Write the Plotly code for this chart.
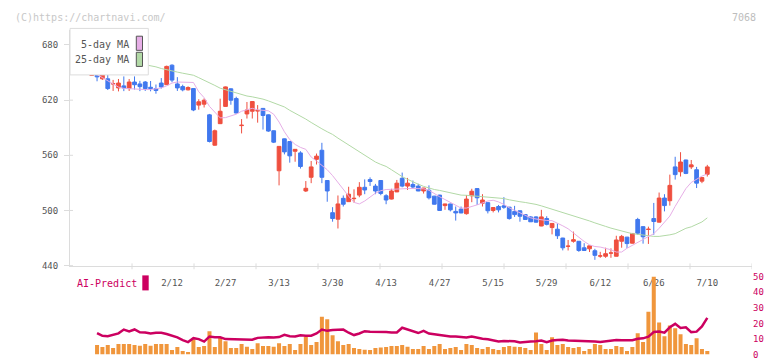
import plotly.graph_objects as go

# ---------------- data ----------------
tick_labels = ["2/12", "2/27", "3/13", "3/30", "4/13", "4/27", "5/15", "5/29", "6/12", "6/26", "7/10"]
tick_index = [15, 25, 35, 45, 55, 65, 75, 85, 95, 105, 115]

opens = [647, 648.9, 643.2, 643.2, 637.5, 633.3, 635.5, 632.6, 639.7, 637.6,
         639.7, 634, 632.6, 638.6, 636.8, 658, 637.6, 634.7, 631.2, 632.6,
         614.6, 615.6, 604, 571, 594.4, 613.2, 632.3, 621.7, 592.3, 605,
         607.9, 608.2, 611, 604, 586.7, 543.2, 577.9, 575, 564.4, 562.6,
         521.2, 536.1, 555.6, 565.5, 532.6, 497.6, 490.5, 513.2, 509.6, 512.8,
         516.7, 525.2, 533.6, 526.5, 532.6, 516, 512.4, 520.2, 535, 526.5,
         528.3, 526.5, 521.2, 522, 515.6, 516.7, 505.3, 507.1, 499, 501.5,
         496.5, 516, 523.8, 507.9, 508.5, 500, 504.3, 505, 503.6, 499,
         499.7, 495.5, 493, 493, 483.1, 491.2, 481.4, 479.6, 470, 461,
         466.5, 466.5, 459.4, 458.3, 456.2, 450.4, 450.2, 453.6, 450.2, 466.5,
         471, 464.4, 490.2, 482.4, 479.3, 491.2, 487.3, 513.5, 510.6, 547.4,
         542.1, 554.9, 547.4, 544.3, 531.9, 539.3]

highs = [648.5, 651, 653.5, 648.5, 642, 643, 645.8, 643, 645.8, 641,
         640.8, 640.8, 637, 644, 657.5, 659, 645, 636.8, 635, 633,
         621, 622, 605, 588, 621.6, 634.8, 632.8, 623.7, 599.4, 618,
         619, 614.6, 611.5, 604.5, 587, 570, 578.2, 575.3, 566.8, 564.4,
         532, 553.8, 561.9, 573.6, 533, 503.6, 516.3, 516.3, 525.8, 523,
         530.8, 533.8, 536, 528.9, 532.9, 517.7, 523.6, 533.2, 541.2, 535.4,
         532.6, 529, 524.6, 527.3, 515.9, 517, 507.3, 507.3, 504.3, 504.3,
         516.7, 523.6, 524, 517.7, 508.8, 503.4, 506, 514.5, 503.9, 505,
         500, 495.8, 493.8, 493.8, 500.7, 493.7, 486.2, 485.9, 470.3, 467.9,
         477, 466.8, 464.4, 461.8, 458.3, 455, 459.5, 458.8, 472.5, 473.4,
         471.3, 475.3, 492, 482.7, 482.4, 508.2, 519.5, 517.7, 539, 558.4,
         563.4, 555.2, 554.9, 547.4, 536, 549.6]

lows = [646.5, 640.5, 642, 631, 630, 629.5, 629.8, 630, 631.5, 629.8,
        630, 629.6, 627, 632.6, 636.5, 639.5, 630, 629.6, 630.5, 608,
        609.6, 612, 574, 570.5, 594, 613, 615, 605.5, 583.8, 600,
        600, 595.5, 588, 585.5, 573.3, 527.3, 561, 552, 553, 545.6,
        520.1, 529.7, 550, 529.7, 509.5, 487.8, 480.4, 504.3, 509.3, 508.5,
        514.4, 517.7, 526.7, 517.7, 516.6, 506.8, 512, 520, 525.2, 522.3,
        523.7, 521, 518.4, 512, 506.5, 499.8, 500.7, 499, 489, 497,
        495.5, 509, 506, 504.3, 496.8, 497.9, 497.9, 501.8, 490, 493,
        487.8, 490, 487.5, 486.8, 482.9, 483.8, 474, 469, 456.6, 456.5,
        465, 455, 456.3, 454.8, 446.3, 448.5, 448.5, 448.5, 450, 459.5,
        459.2, 464.2, 473.6, 463.9, 463.6, 473.6, 487, 499, 505.3, 533.6,
        536.9, 539.5, 545, 524.4, 529.7, 536.9]

closes = [647.5, 645.3, 647.5, 632.6, 638, 638.6, 633.3, 639.7, 636.8, 634.7,
          632.6, 632.6, 630.5, 634.3, 656.7, 641.8, 633.3, 631.2, 633.7, 609.3,
          618.2, 619.9, 575, 586.7, 607.9, 634.4, 619.9, 606, 592.7, 609.3,
          618.5, 608.6, 603.3, 586.4, 574.3, 569.7, 563.7, 559.4, 566.5, 547.8,
          524.1, 547.4, 559.1, 536.1, 521.2, 491.2, 507.1, 506.8, 517.7, 513.2,
          525.2, 522.3, 531.5, 521.2, 518.5, 511.4, 521.2, 529.7, 526.5, 529.7,
          525.5, 521.2, 524.4, 513.8, 506.8, 500, 507.1, 500.7, 497.3, 497.3,
          512.4, 520.9, 513.8, 511.4, 499.7, 503.2, 500.7, 503.6, 491.2, 495.5,
          493.7, 490.2, 487.7, 487.3, 493, 484.9, 485.9, 472.5, 459.4, 461.2,
          468.2, 456.5, 456.5, 461.5, 451.2, 450.6, 453, 453.8, 467.9, 471.8,
          464, 475, 475.3, 471.4, 479.6, 488, 513.5, 505.3, 527.3, 539,
          552.7, 540.3, 549.6, 529.7, 535.8, 547.4]

ma5 = [648.2, 647.7, 644.5, 640.8, 637.6, 634.2, 632.8, 632.3, 632.0, 631.8,
       631.5, 631.5, 632.3, 633.3, 635.5, 638.6, 639.7, 639.5, 639.4, 639.2,
       629.1, 622.7, 613.2, 606.8, 600.7, 601.0, 603.1, 604.7, 607.9, 609.5,
       611.1, 609.5, 609.2, 608.4, 604.7, 596.2, 585.6, 577.1, 571.8, 568.6,
       566.5, 558.1, 553.8, 549.0, 544.3, 537.9, 530.5, 522.0, 515.6, 508.8,
       507.1, 510.3, 514.6, 518.8, 521.5, 522.8, 523.0, 523.5, 523.6, 523.8,
       523.9, 524.1, 523.6, 522.0, 518.3, 514.9, 511.9, 508.7, 505.5, 502.6,
       502.6, 504.0, 506.1, 508.2, 510.3, 511.1, 509.3, 506.6, 502.9, 500.2,
       497.3, 494.6, 492.0, 490.7, 489.6, 489.1, 488.9, 486.5, 483.3, 480.1,
       475.3, 470.5, 466.3, 462.6, 460.8, 460.2, 458.6, 457.3, 454.8, 454.8,
       458.9, 462.1, 465.2, 468.4, 471.1, 474.8, 480.6, 487.0, 493.9, 504.5,
       514.9, 523.8, 530.5, 534.2, 537.4, 539.7]

ma25 = [670.5, 669.2, 667.9, 666.7, 665.4, 664.1, 662.8, 661.6, 660.4, 659.4,
        658.5, 657.7, 656.2, 654.4, 652.9, 651.6, 650.5, 649.3, 648.6, 647.1,
        644.4, 641.8, 639.2, 636.0, 633.0, 631.4, 629.6, 627.5, 625.9, 624.5,
        623.6, 622.7, 621.1, 619.2, 617.1, 614.8, 612.6, 608.9, 605.8, 603.1,
        599.4, 595.7, 592.7, 588.8, 585.6, 582.7, 578.7, 575.0, 571.1, 567.6,
        563.3, 559.6, 555.9, 552.7, 550.1, 547.9, 544.3, 540.5, 536.8, 533.9,
        531.0, 528.6, 526.2, 524.1, 522.8, 521.8, 520.6, 519.3, 518.1, 516.7,
        516.5, 516.0, 515.6, 515.4, 514.8, 514.0, 513.5, 513.0, 511.6, 510.3,
        509.5, 508.7, 507.9, 506.6, 505.0, 503.2, 501.5, 499.7, 498.1, 496.5,
        494.4, 492.5, 490.7, 488.6, 486.5, 484.9, 482.7, 480.8, 479.0, 477.6,
        476.2, 474.8, 473.9, 473.2, 472.3, 471.8, 471.8, 472.5, 473.5, 474.8,
        477.4, 480.6, 482.2, 484.5, 487.5, 492.0]

volume = [None, 6.1, 4.8, 6.1, 4.2, 6.7, 6.7, 6.7, 6.1, 5.6,
          6.7, 5.6, 6.7, 6.7, 6.7, 2.9, 4.8, 2.3, 1.7, 9.7,
          4.8, 5.5, 14.9, 4.8, 10.7, 8.6, 4.2, 4.2, 6.7, 5.0,
          3.6, 7.3, 5.5, 5.5, 5.0, 7.3, 5.5, 6.7, 2.9, 6.7,
          11.5, 6.1, 8.0, 24.3, 22.6, 12.4, 8.6, 6.1, 6.7, 4.2,
          3.6, 3.1, 2.9, 4.2, 4.5, 4.8, 5.5, 5.5, 6.1, 5.0,
          3.6, 3.6, 5.5, 3.6, 5.5, 6.7, 3.6, 4.2, 4.8, 2.9,
          6.7, 6.1, 4.2, 3.6, 4.8, 3.6, 2.9, 4.8, 5.5, 5.0,
          4.8, 4.2, 2.9, 14.2, 6.7, 2.9, 11.1, 6.1, 6.7, 4.8,
          4.2, 4.8, 2.3, 3.6, 6.7, 6.1, 3.6, 3.6, 5.5, 4.8,
          2.3, 4.8, 13.6, 8.0, 27.4, 50, 20.5, 11.7, 18.6, 16.8,
          13.0, 6.7, 6.1, 10.5, 3.6, 2.3]

ai_predict = [None, 13.8, 12.0, 11.8, 12.8, 13.6, 16.0, 14.9, 16.1, 14.3,
              14.2, 13.5, 14.0, 14.0, 13.2, 12.2, 11.0, 9.2, 8.0, 10.5,
              9.9, 8.3, 11.5, 11.1, 11.1, 9.9, 9.9, 9.9, 9.9, 9.6,
              9.5, 10.7, 11.1, 11.1, 10.9, 11.2, 12.6, 11.7, 11.6, 12.3,
              12.1, 12.1, 13.5, 16.0, 15.2, 15.8, 15.9, 16.0, 14.0, 12.5,
              13.5, 15.0, 14.7, 14.7, 14.5, 14.4, 14.2, 14.2, 17.2, 16.0,
              14.8, 13.8, 15.2, 13.5, 13.0, 12.4, 11.8, 11.6, 11.5, 11.2,
              10.9, 11.6, 10.8, 10.2, 9.8, 9.3, 8.4, 8.7, 8.7, 8.5,
              7.8, 8.3, 8.4, 8.6, 9.0, 8.0, 9.0, 9.4, 9.5, 9.0,
              8.9, 9.0, 8.8, 8.6, 8.3, 8.0, 8.5, 9.3, 9.4, 9.1,
              9.1, 9.2, 10.1, 10.4, 11.5, 14.5, 14.7, 14.0, 17.5, 19.7,
              17.0, 17.5, 14.4, 14.7, 18.0, 23.5]

price_ticks = [440, 500, 560, 620, 680]
sub_ticks = [0, 10, 20, 30, 40, 50]

# ---------------- styling ----------------
W, H = 772, 361
RED = "#ef4f3f"
BLUE = "#4078ee"
PINK = "#e6aee6"
GREEN = "#b2d9a6"
ORANGE = "#f0963c"
MAGENTA = "#cc0060"
AXIS = "#dcdcdc"
TXT = "#555555"
MONO = "DejaVu Sans Mono"


def px_x(v):
    return v / W


def px_y(v):
    return 1 - v / H


X0, X1 = 70, 752          # plot area (pixels)
Y_TOP, Y_BOT = 26, 268     # main panel
S_TOP, S_BOT = 278.5, 358.5  # sub panel
xr = [-4.054, 123.35]
yr = [439.26, 695.9]

idx = list(range(len(closes)))

fig = go.Figure()
fig.add_trace(go.Scatter(x=idx, y=ma25, mode="lines", line=dict(color=GREEN, width=1),
                         hoverinfo="skip"))
fig.add_trace(go.Scatter(x=idx, y=ma5, mode="lines", line=dict(color=PINK, width=1),
                         hoverinfo="skip"))
fig.add_trace(go.Candlestick(
    x=idx, open=opens, high=highs, low=lows, close=closes,
    increasing=dict(line=dict(color=RED, width=1), fillcolor=RED),
    decreasing=dict(line=dict(color=BLUE, width=1), fillcolor=BLUE),
    whiskerwidth=0,
))
fig.add_trace(go.Bar(x=idx, y=volume, marker=dict(color=ORANGE, line=dict(width=0)),
                     yaxis="y2"))
fig.add_trace(go.Scatter(x=idx, y=ai_predict, mode="lines", yaxis="y2",
                         line=dict(color=MAGENTA, width=2.5)))

shapes = []
# cross part of the y ticks (inside)
for v in price_ticks:
    shapes.append(dict(type="line", xref="paper", yref="y", x0=px_x(X0), x1=px_x(X0 + 3),
                       y0=v, y1=v, line=dict(color=AXIS, width=1)))
# x-axis division ticks (11 equal parts, crossing the axis line)
n_div = 11
for k in range(1, n_div + 1):
    xv = xr[0] + (xr[1] - xr[0]) * k / n_div
    shapes.append(dict(type="line", xref="x", yref="paper", x0=xv, x1=xv,
                       y0=px_y(Y_BOT + 3), y1=px_y(Y_BOT - 3), line=dict(color=AXIS, width=1)))
# legend box
shapes.append(dict(type="rect", xref="paper", yref="paper", x0=px_x(70), x1=px_x(148.3),
                   y0=px_y(71.7), y1=px_y(24), fillcolor="white",
                   line=dict(color=AXIS, width=1), layer="above"))
shapes.append(dict(type="rect", xref="paper", yref="paper", x0=px_x(136.3), x1=px_x(142.5),
                   y0=px_y(46.5), y1=px_y(32), fillcolor=PINK,
                   line=dict(color="#555555", width=1), layer="above"))
shapes.append(dict(type="rect", xref="paper", yref="paper", x0=px_x(136.3), x1=px_x(142.5),
                   y0=px_y(63), y1=px_y(48.5), fillcolor=GREEN,
                   line=dict(color="#555555", width=1), layer="above"))
# AI-Predict marker
shapes.append(dict(type="rect", xref="paper", yref="paper", x0=px_x(142.3), x1=px_x(148.7),
                   y0=px_y(292.7), y1=px_y(277.3), fillcolor=MAGENTA,
                   line=dict(width=0), layer="above"))

annotations = [
    dict(text="(C)https://chartnavi.com/", x=px_x(13), y=px_y(12.5), xref="paper", yref="paper",
         xanchor="left", yanchor="middle", showarrow=False,
         font=dict(family=MONO, size=10, color="#c8c8c8")),
    dict(text="7068", x=px_x(758), y=px_y(12.5), xref="paper", yref="paper",
         xanchor="right", yanchor="middle", showarrow=False,
         font=dict(family=MONO, size=10, color="#bdbdbd")),
    dict(text="5-day MA", x=px_x(131), y=px_y(40), xref="paper", yref="paper",
         xanchor="right", yanchor="middle", showarrow=False,
         font=dict(family=MONO, size=10, color=TXT)),
    dict(text="25-day MA", x=px_x(131), y=px_y(56), xref="paper", yref="paper",
         xanchor="right", yanchor="middle", showarrow=False,
         font=dict(family=MONO, size=10, color=TXT)),
    dict(text="AI-Predict", x=px_x(75), y=px_y(286), xref="paper", yref="paper",
         xanchor="left", yanchor="middle", showarrow=False,
         font=dict(family=MONO, size=10, color=MAGENTA)),
]

fig.update_layout(
    width=W, height=H, margin=dict(l=0, r=0, t=0, b=0),
    paper_bgcolor="white", plot_bgcolor="white", showlegend=False,
    bargap=0.25, boxgap=0.3, boxgroupgap=0,
    xaxis=dict(domain=[px_x(X0), px_x(X1)], range=xr, anchor="y",
               showline=True, linecolor=AXIS, linewidth=1, showgrid=False, zeroline=False,
               tickmode="array", tickvals=tick_index, ticktext=tick_labels, ticks="",
               ticklabelstandoff=8,
               tickfont=dict(family=MONO, size=9, color=TXT),
               rangeslider=dict(visible=False), fixedrange=True),
    yaxis=dict(domain=[px_y(Y_BOT), px_y(Y_TOP)], range=yr, anchor="x",
               showline=True, linecolor=AXIS, linewidth=1, showgrid=False, zeroline=False,
               tickmode="array", tickvals=price_ticks, ticks="outside", ticklen=5,
               tickcolor=AXIS, ticklabelstandoff=4,
               tickfont=dict(family=MONO, size=9, color=TXT), fixedrange=True),
    yaxis2=dict(domain=[px_y(S_BOT), px_y(S_TOP)], range=[0, 50], anchor="x", side="right",
                showline=False, showgrid=False, zeroline=False,
                tickmode="array", tickvals=sub_ticks, ticks="",
                tickfont=dict(family=MONO, size=9, color=MAGENTA), fixedrange=True),
    shapes=shapes, annotations=annotations,
)

fig.write_html("out.html")
